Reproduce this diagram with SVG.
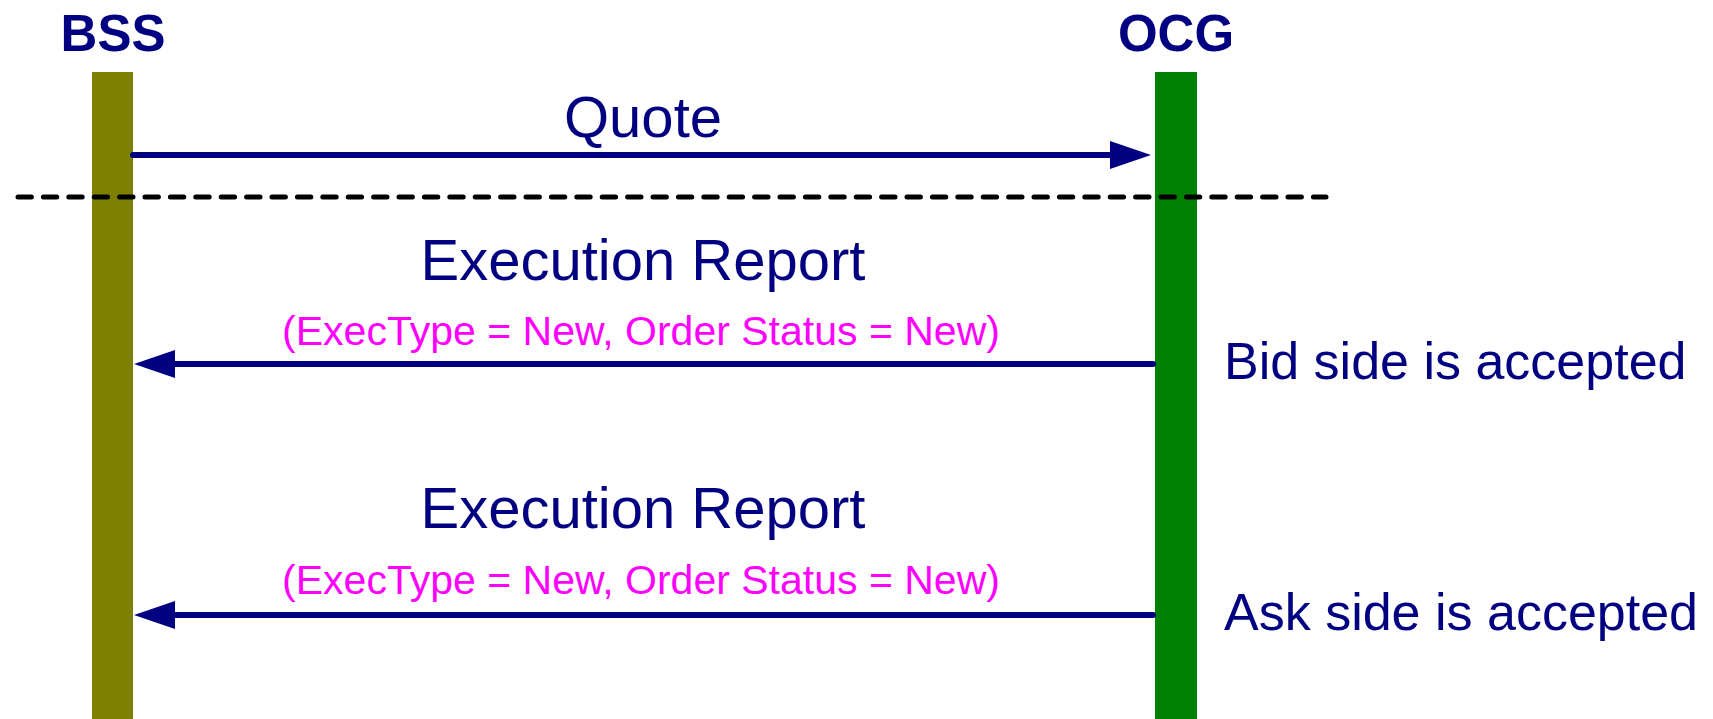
<svg xmlns="http://www.w3.org/2000/svg" width="1713" height="719" viewBox="0 0 1713 719">
<style>
.hdr{font-family:"Liberation Sans",Arial,sans-serif;font-weight:bold;font-size:51px;fill:#000080;text-anchor:middle}
.msg{font-family:"Liberation Sans",Arial,sans-serif;font-size:58px;fill:#000080;text-anchor:middle}
.sub{font-family:"Liberation Sans",Arial,sans-serif;font-size:41px;fill:#FF00FF;text-anchor:middle}
.note{font-family:"Liberation Sans",Arial,sans-serif;font-size:52px;fill:#000080}
.arr{stroke:#000080;stroke-width:6;fill:none;stroke-linecap:round}
</style>
<defs>
<marker id="ah" viewBox="0 0 41 28" refX="2" refY="14" markerWidth="41" markerHeight="28" markerUnits="userSpaceOnUse" orient="auto">
<path d="M0,0 L41,14 L0,28 Z" fill="#000080"/>
</marker>
</defs>
<rect width="1713" height="719" fill="#ffffff"/>
<g id="bss">
<text class="hdr" x="113" y="51">BSS</text>
<rect x="92" y="72" width="41" height="647" fill="#808000"/>
</g>
<g id="ocg">
<text class="hdr" x="1176" y="51">OCG</text>
<rect x="1155" y="72" width="42" height="647" fill="#008000"/>
</g>
<line id="separator" x1="18" y1="197" x2="1326" y2="197" stroke="#000000" stroke-width="5" stroke-linecap="round" stroke-dasharray="13.4 12"/>
<g id="connectors">
<line class="arr" x1="133" y1="155" x2="1112" y2="155" marker-end="url(#ah)"/>
<line class="arr" x1="1153" y1="364" x2="173" y2="364" marker-end="url(#ah)"/>
<line class="arr" x1="1153" y1="615" x2="173" y2="615" marker-end="url(#ah)"/>
</g>
<g id="labels">
<text class="msg" x="643" y="137">Quote</text>
<text class="msg" x="643" y="280">Execution Report</text>
<text class="sub" x="641" y="345">(ExecType = New, Order Status = New)</text>
<text class="note" x="1224" y="379">Bid side is accepted</text>
<text class="msg" x="643" y="528">Execution Report</text>
<text class="sub" x="641" y="594">(ExecType = New, Order Status = New)</text>
<text class="note" x="1224" y="630">Ask side is accepted</text>
</g>
</svg>
